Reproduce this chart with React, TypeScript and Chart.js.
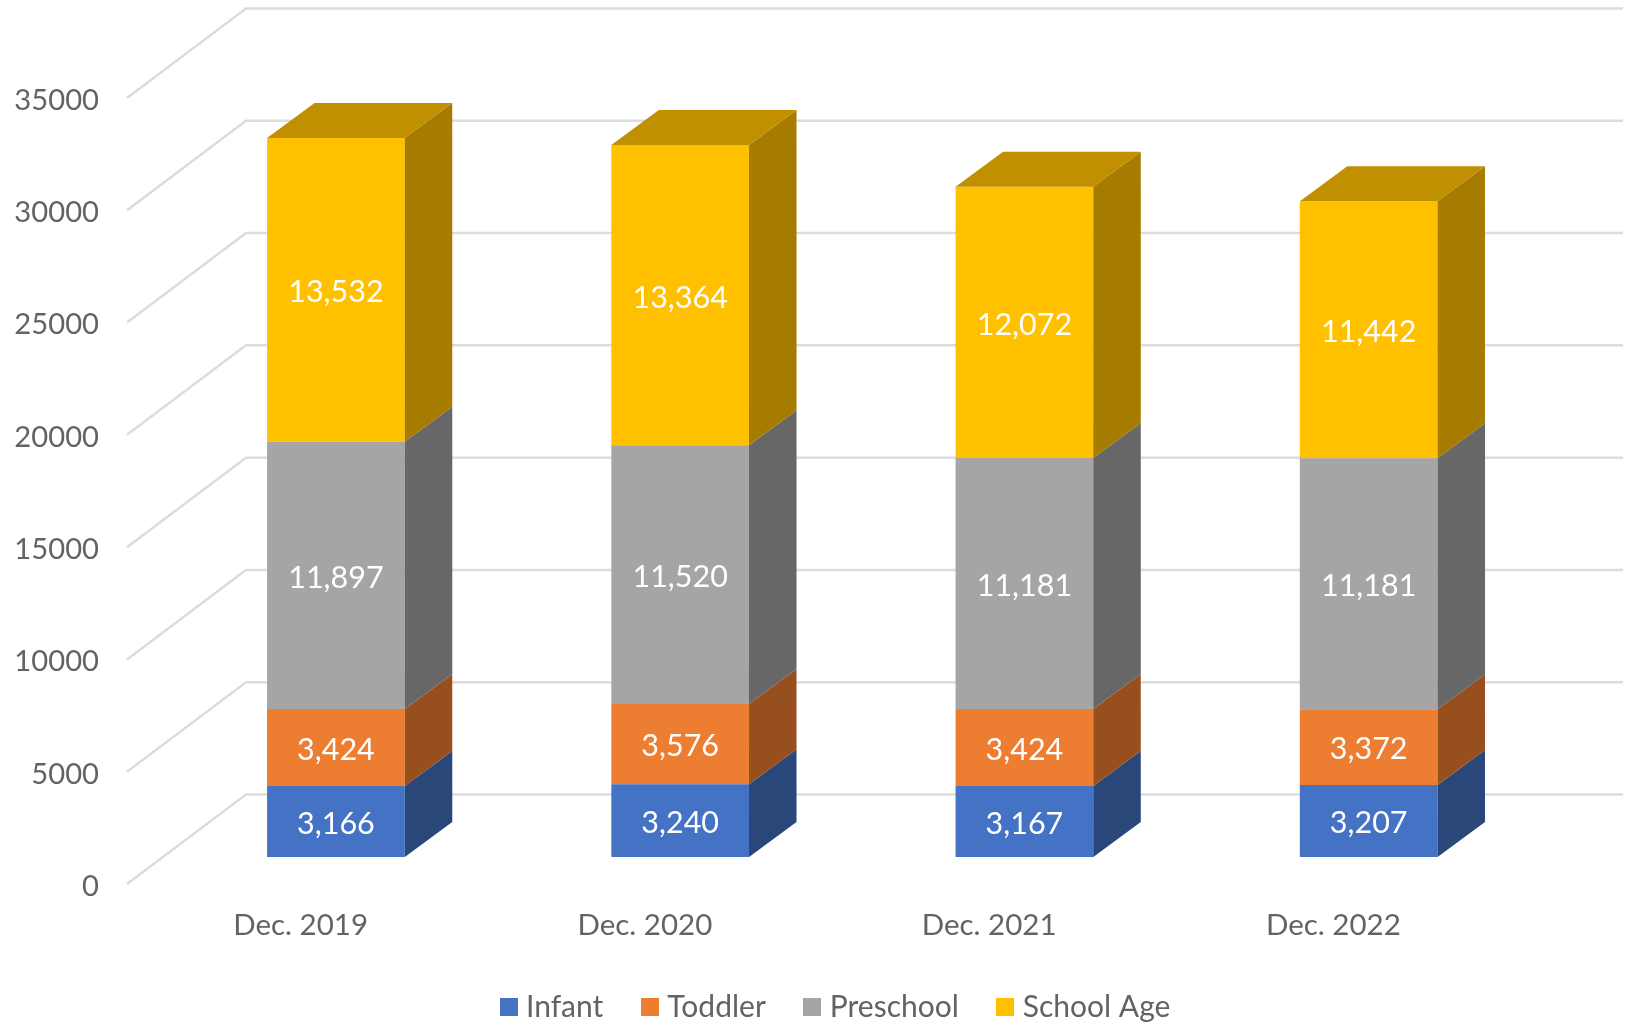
import React, { useEffect, useRef } from "react";
import { Chart, registerables } from "chart.js";

Chart.register(...registerables);

const categories = ["Dec. 2019", "Dec. 2020", "Dec. 2021", "Dec. 2022"];
const infant = [3166, 3240, 3167, 3207];
const toddler = [3424, 3576, 3424, 3372];
const preschool = [11897, 11520, 11181, 11181];
const schoolAge = [13532, 13364, 12072, 11442];

const seriesNames = ["Infant", "Toddler", "Preschool", "School Age"];
const frontColors = ["#4472C4", "#ED7D31", "#A5A5A5", "#FFC000"];
const sideColors = ["#2A4779", "#984F1E", "#676767", "#A67C00"];
const topColor = "#C09000";
const gridColor = "#DCDCDC";
const textColor = "#636363";
const fontFamily = "Lato";
const fontSize = 30;
const tickFontSize = 29.2;
const legendPad = 44;

// Oblique projection of the 3D box
const BAR_DX = 36.8;
const BAR_DY = -27;
const DEPTH_DX = 47.5;
const DEPTH_DY = -35;
const WALL_DX = 119;
const WALL_DY = -89.5;

function swatch(color: string) {
  const c = document.createElement("canvas");
  c.width = 18;
  c.height = 18;
  const g = c.getContext("2d")!;
  g.fillStyle = color;
  g.fillRect(0, 0, 18, 18);
  return c;
}

const threeD = {
  id: "threeD",
  afterLayout(chart: any) {
    const lg = chart.legend;
    if (lg) {
      lg.left = 506 - legendPad;
      lg.top = 1007 - legendPad - fontSize / 2;
    }
  },
  beforeDatasetsDraw(chart: any) {
    const { ctx, scales } = chart;
    const { x, y } = scales;
    ctx.save();
    ctx.strokeStyle = gridColor;
    ctx.lineWidth = 2.5;
    ctx.lineJoin = "miter";
    for (const t of y.ticks) {
      const py = y.getPixelForValue(t.value);
      ctx.beginPath();
      ctx.moveTo(x.left, py);
      ctx.lineTo(x.left + WALL_DX, py + WALL_DY);
      ctx.lineTo(x.right + WALL_DX, py + WALL_DY);
      ctx.stroke();
    }
    ctx.restore();
    ctx.save();
    ctx.translate(BAR_DX, BAR_DY);
  },
  afterDatasetsDraw(chart: any) {
    const { ctx } = chart;
    const last = chart.data.datasets.length - 1;
    chart.data.datasets.forEach((ds: any, di: number) => {
      const meta = chart.getDatasetMeta(di);
      meta.data.forEach((el: any, i: number) => {
        const { x, y, base, width } = el;
        const r = x + width / 2;
        const l = x - width / 2;
        ctx.fillStyle = sideColors[di];
        ctx.beginPath();
        ctx.moveTo(r, y);
        ctx.lineTo(r + DEPTH_DX, y + DEPTH_DY);
        ctx.lineTo(r + DEPTH_DX, base + DEPTH_DY);
        ctx.lineTo(r, base);
        ctx.closePath();
        ctx.fill();
        if (di === last) {
          ctx.fillStyle = topColor;
          ctx.beginPath();
          ctx.moveTo(l, y);
          ctx.lineTo(l + DEPTH_DX, y + DEPTH_DY);
          ctx.lineTo(r + DEPTH_DX, y + DEPTH_DY);
          ctx.lineTo(r, y);
          ctx.closePath();
          ctx.fill();
        }
        ctx.fillStyle = "#FFFFFF";
        ctx.font = `${fontSize + 0.5}px ${fontFamily}`;
        ctx.textAlign = "center";
        ctx.textBaseline = "middle";
        ctx.fillText(ds.data[i].toLocaleString("en-US"), x, (y + base) / 2 + 2.5);
      });
    });
    ctx.restore();
  },
};

export default function App() {
  const ref = useRef<HTMLCanvasElement>(null);
  useEffect(() => {
    const series = [infant, toddler, preschool, schoolAge];
    const chart = new Chart(ref.current!, {
      type: "bar",
      data: {
        labels: categories,
        datasets: series.map((data, i) => ({
          label: seriesNames[i],
          data,
          backgroundColor: frontColors[i],
          borderWidth: 0,
          categoryPercentage: 1,
          barPercentage: 0.4,
          clip: false as any,
        })),
      },
      options: {
        responsive: false,
        animation: false,
        devicePixelRatio: 1,
        layout: { padding: { top: 98, right: 121, left: 0, bottom: 0 } },
        scales: {
          x: {
            stacked: true,
            grid: { display: false, drawTicks: false },
            border: { display: false },
            ticks: {
              color: textColor,
              font: { family: fontFamily, size: fontSize - 0.5 },
              padding: 24,
              labelOffset: 1.5,
              maxRotation: 0,
              autoSkip: false,
            },
            afterFit: (s: any) => {
              s.height = 79;
            },
          },
          y: {
            stacked: true,
            min: 0,
            max: 35000,
            grid: { display: false, drawTicks: false },
            border: { display: false },
            ticks: {
              stepSize: 5000,
              color: textColor,
              font: { family: fontFamily, size: tickFontSize },
              padding: 28,
              labelOffset: 2.5,
              callback: (v: any) => String(v),
            },
            afterFit: (s: any) => {
              s.width = 127;
            },
          },
        },
        plugins: {
          tooltip: { enabled: false },
          legend: {
            position: "bottom",
            align: "start",
            maxHeight: 60,
            labels: {
              color: textColor,
              font: { family: fontFamily, size: fontSize },
              usePointStyle: true,
              pointStyleWidth: 5,
              padding: legendPad,
              generateLabels: (c: any) =>
                c.data.datasets.map((d: any, i: number) => ({
                  text: d.label,
                  fillStyle: frontColors[i],
                  strokeStyle: frontColors[i],
                  lineWidth: 0,
                  fontColor: textColor,
                  pointStyle: swatch(frontColors[i]),
                  datasetIndex: i,
                  hidden: false,
                })),
            },
          },
        },
      },
      plugins: [threeD],
    } as any);
    return () => chart.destroy();
  }, []);
  return (
    <div style={{ position: "absolute", left: 0, top: 0, width: 1625, height: 1023, background: "#fff" }}>
      <canvas ref={ref} width={1625} height={1023} style={{ display: "block" }} />
    </div>
  );
}
